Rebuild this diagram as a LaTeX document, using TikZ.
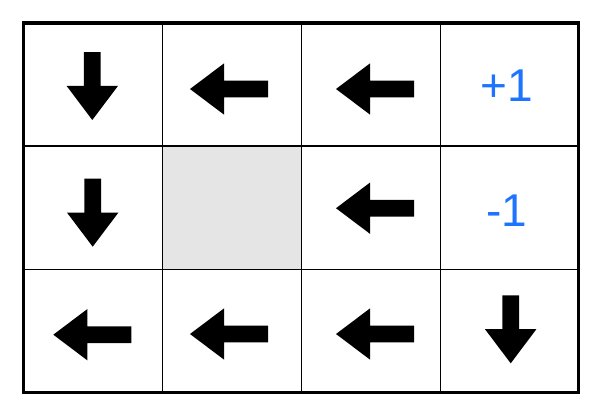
\documentclass[tikz,border=0pt]{standalone}
\usepackage{fontspec}
\setmainfont{Liberation Sans}
\usetikzlibrary{shapes.arrows}
\definecolor{reward}{HTML}{1E74FF}
\definecolor{wall}{HTML}{E5E5E5}

\begin{document}
\begin{tikzpicture}[
  x=1pt, y=1pt,
  gridline/.style={draw=black,line width=1.5pt},
  frame/.style={draw=black,line width=3.2pt},
  act/.style={single arrow,fill=black,draw=none,inner sep=8.2pt,outer sep=0pt,
              single arrow head extend=17.3pt,single arrow tip angle=74,
              single arrow head indent=0pt,anchor=tip},
  goleft/.style={act,minimum height=78pt,shape border rotate=180},
  godown/.style={act,minimum height=68pt,shape border rotate=270},
  val/.style={text=reward,font=\fontsize{46}{46}\selectfont,inner sep=0pt},
]
\useasboundingbox (0,0) rectangle (600,-405);

% --- the blocked cell --------------------------------------------------------
\fill[wall] (162.7,-146) rectangle (301.7,-269.5);

% --- grid --------------------------------------------------------------------
\draw[gridline] (162.7,-23) -- (162.7,-392.5);
\draw[gridline] (301.7,-23) -- (301.7,-392.5);
\draw[gridline] (440.7,-23) -- (440.7,-392.5);
\draw[gridline] (23.5,-146) -- (578.7,-146);
\draw[gridline] (23.5,-269.5) -- (578.7,-269.5);
\draw[frame] (23.5,-23) rectangle (578.7,-392.5);

% --- row 0 (arrows placed by their tips) -------------------------------------
\node[godown] (a00) at (92.3,-120)  {};
\node[goleft] (a10) at (190,-89)    {};
\node[goleft] (a20) at (336,-89)    {};
\node[val]    (win) at (507,-86)    {+1};

% --- row 1 -------------------------------------------------------------------
\node[godown] (a01) at (92.7,-246.7) {};
\node[goleft] (a21) at (336,-208.2)  {};
\node[val]    (pit) at (507,-211)    {-1};

% --- row 2 -------------------------------------------------------------------
\node[goleft] (a02) at (53.3,-334.7) {};
\node[goleft] (a12) at (190,-334)    {};
\node[goleft] (a22) at (336,-334)    {};
\node[godown] (a32) at (510.7,-363.3) {};
\end{tikzpicture}
\end{document}
